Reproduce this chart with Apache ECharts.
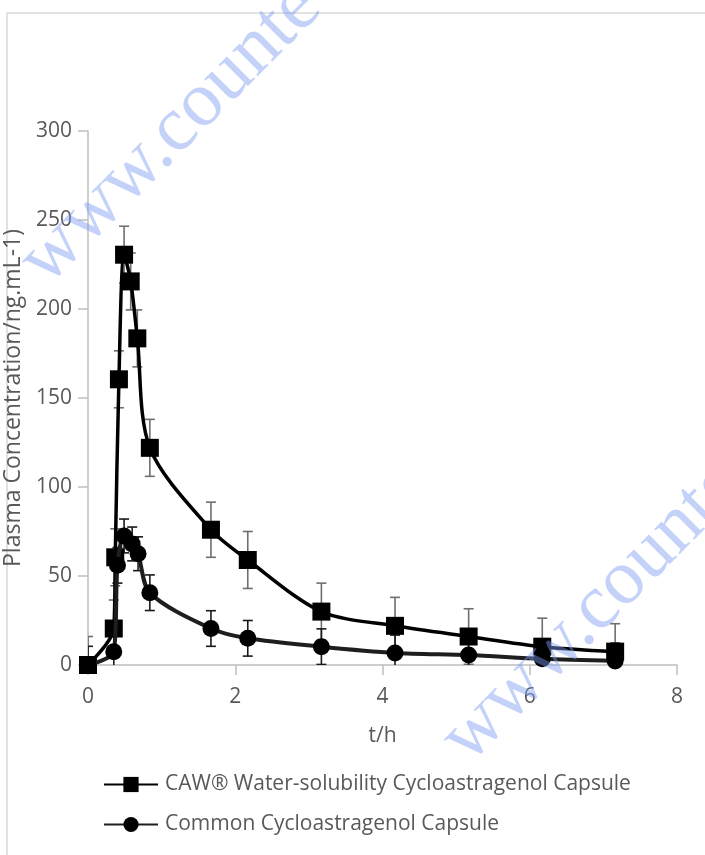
<!DOCTYPE html>
<html>
<head>
<meta charset="utf-8">
<script src="https://cdn.jsdelivr.net/npm/echarts@6/dist/echarts.min.js"></script>
<style>html,body{margin:0;padding:0;background:#fff}#c{width:705px;height:855px}</style>
</head>
<body>
<div id="c"></div>
<script>
// Square series: CAW Water-solubility Cycloastragenol Capsule
const sqT  = [0, 0.35, 0.37, 0.42, 0.49, 0.58, 0.67, 0.84, 1.67, 2.17, 3.17, 4.17, 5.17, 6.17, 7.16];
const sqY  = [0, 20.5, 60.5, 160.5, 230.5, 215.5, 183.5, 122, 76, 59, 30, 22, 16, 10.3, 7.5];
const sqSD = [16, 16, 16, 16, 16, 16, 16, 16, 15.5, 16, 16, 16, 15.6, 16, 15.7];
// Circle series: Common Cycloastragenol Capsule
const ciT  = [0, 0.35, 0.40, 0.49, 0.60, 0.68, 0.84, 1.67, 2.17, 3.17, 4.17, 5.17, 6.17, 7.16];
const ciY  = [0, 7.5, 56, 72.5, 68, 62.5, 40.6, 20.5, 15, 10.3, 6.8, 5.6, 3.5, 2.3];
const ciSD = [10.5, 10, 10, 9.5, 9.5, 9.5, 10, 10, 10, 10, 10, 10, 10, 10];
const xTicks = [0, 2, 4, 6, 8];
const yTicks = [0, 50, 100, 150, 200, 250, 300];
const seriesNames = ['CAW® Water-solubility Cycloastragenol Capsule', 'Common Cycloastragenol Capsule'];
const watermark = 'www.counte';

const FONT = '"Open Sans", sans-serif';
const chart = echarts.init(document.getElementById('c'));

function errBar(color) {
  return function (params, api) {
    const x = api.value(0), y = api.value(1), sd = api.value(2);
    const top = api.coord([x, y + sd]);
    const bot = api.coord([x, y - sd]);
    const hw = 5;
    const st = {stroke: color, lineWidth: 1.6};
    return {
      type: 'group',
      children: [
        {type: 'line', shape: {x1: top[0], y1: top[1], x2: bot[0], y2: bot[1]}, style: st},
        {type: 'line', shape: {x1: top[0] - hw, y1: top[1], x2: top[0] + hw, y2: top[1]}, style: st},
        {type: 'line', shape: {x1: bot[0] - hw, y1: bot[1], x2: bot[0] + hw, y2: bot[1]}, style: st}
      ]
    };
  };
}

const sqData = sqT.map((t, i) => [t, sqY[i]]);
const ciData = ciT.map((t, i) => [t, ciY[i]]);
const sqErr = sqT.map((t, i) => [t, sqY[i], sqSD[i]]);
const ciErr = ciT.map((t, i) => [t, ciY[i], ciSD[i]]);

const wmStyle = {text: watermark, font: '78px "Liberation Serif", serif', fill: 'rgba(125,155,242,0.45)', verticalAlign: 'bottom', align: 'left'};

chart.setOption({
  animation: false,
  backgroundColor: '#fff',
  textStyle: {fontFamily: FONT},
  grid: {left: 88, right: 28, top: 131, bottom: 190, containLabel: false, outerBoundsMode: 'none'},
  xAxis: {
    type: 'value', min: xTicks[0], max: xTicks[xTicks.length - 1], interval: 2,
    name: 't/h', nameLocation: 'middle', nameGap: 61,
    nameTextStyle: {fontSize: 21, color: '#595959', fontFamily: FONT},
    axisLine: {show: true, lineStyle: {color: '#bfbfbf', width: 1.5}},
    axisTick: {show: true, length: 10, lineStyle: {color: '#bfbfbf', width: 1.5}},
    axisLabel: {fontSize: 21, color: '#595959', margin: 22, fontFamily: FONT},
    splitLine: {show: false}
  },
  yAxis: {
    type: 'value', min: yTicks[0], max: yTicks[yTicks.length - 1], interval: 50,
    name: 'Plasma Concentration/ng.mL-1)', nameLocation: 'middle', nameGap: 44,
    nameTextStyle: {fontSize: 23, color: '#595959', fontFamily: FONT},
    axisLine: {show: true, lineStyle: {color: '#bfbfbf', width: 1.5}},
    axisTick: {show: true, length: 10, lineStyle: {color: '#bfbfbf', width: 1.5}},
    axisLabel: {fontSize: 21, color: '#595959', margin: 16, fontFamily: FONT},
    splitLine: {show: false}
  },
  legend: {
    orient: 'vertical', left: 103, top: 774, padding: 0,
    itemWidth: 54, itemHeight: 19, itemGap: 19,
    data: seriesNames,
    textStyle: {fontSize: 21, color: '#595959', fontFamily: FONT, padding: [0, 0, 0, 2]}
  },
  graphic: [
    {type: 'rect', silent: true, z: -1, shape: {x: 7, y: 13, width: 760, height: 900},
     style: {fill: 'none', stroke: '#d9d9d9', lineWidth: 1.5}},
    {type: 'text', silent: true, z: 100, x: 60, y: 300, rotation: Math.PI / 4, style: wmStyle},
    {type: 'text', silent: true, z: 100, x: 482, y: 778, rotation: Math.PI / 4, style: wmStyle}
  ],
  series: [
    {type: 'custom', name: 'sqErr', renderItem: errBar('#6f6f6f'), data: sqErr, clip: true, z: 1,
     encode: {x: 0, y: 1}},
    {type: 'custom', name: 'ciErr', renderItem: errBar('#1a1a1a'), data: ciErr, clip: true, z: 1,
     encode: {x: 0, y: 1}},
    {type: 'line', name: seriesNames[0], data: sqData, smooth: 0.3, clip: false,
     symbol: 'rect', symbolSize: 18, showAllSymbol: true, z: 3,
     itemStyle: {color: '#000'}, lineStyle: {color: '#000', width: 3.5}},
    {type: 'line', name: seriesNames[1], data: ciData, smooth: 0.3, clip: false,
     symbol: 'circle', symbolSize: 17, showAllSymbol: true, z: 4,
     itemStyle: {color: '#000'}, lineStyle: {color: '#1e1e1e', width: 4}}
  ]
});
</script>
</body>
</html>
